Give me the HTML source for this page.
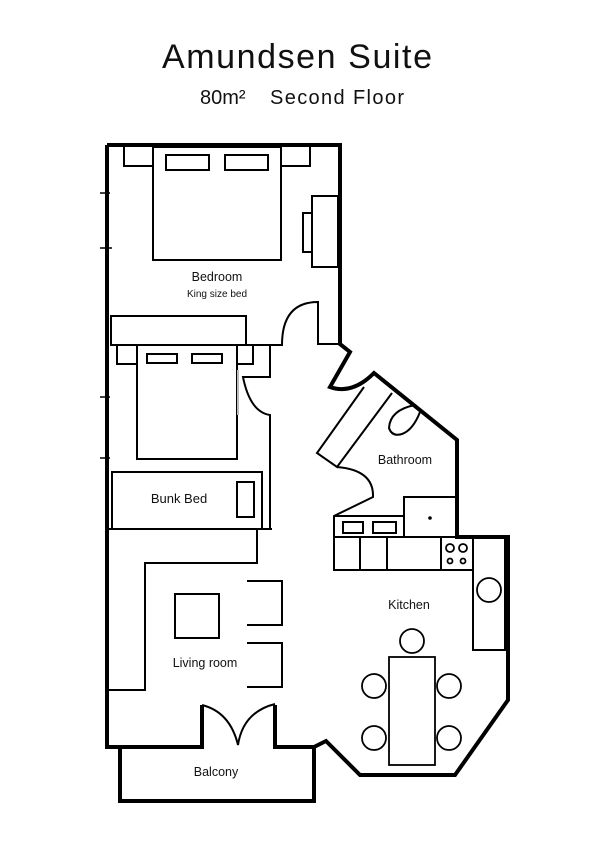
<!DOCTYPE html>
<html><head><meta charset="utf-8"><style>
html,body{margin:0;padding:0;background:#fff;width:607px;height:854px;overflow:hidden}
svg{display:block}
text{font-family:"Liberation Sans",sans-serif;fill:#111}
</style></head><body>
<svg width="607" height="854" viewBox="0 0 607 854" xmlns="http://www.w3.org/2000/svg">
<text x="297" y="68" font-size="34" text-anchor="middle" textLength="270">Amundsen Suite</text>
<text x="200" y="104" font-size="20">80m²</text>
<text x="270" y="104" font-size="20" textLength="134">Second Floor</text>

<g fill="none" stroke="#000" stroke-linejoin="miter">
<path stroke-width="4" d="M107,145 L340,145 L340,344 L350,352 L330,387 Q352,395 374,373 L457,440 L457,537 L508,537 L508,700 L455,775 L360,775 L326,741 L314,747 L275,747 L275,705"/>
<path stroke-width="4" d="M107,145 L107,747 L202,747 L202,705"/>
<path stroke-width="4" d="M120,747 L120,801 L314,801 L314,745"/>
<path stroke-width="1.5" d="M100,193H110M100,248H112M100,397H110M100,458H110"/>

<g stroke-width="2">
<rect x="153" y="147" width="128" height="113"/>
<rect x="166" y="155" width="43" height="15"/>
<rect x="225" y="155" width="43" height="15"/>
<path d="M124,147V166H153M281,166H310V147"/>
<rect x="312" y="196" width="26" height="71"/>
<rect x="303" y="213" width="9" height="39"/>
<rect x="111" y="316" width="135" height="29"/>
<path d="M246,345H282 Q282,302 318,302 V344 H339"/>
<rect x="137" y="345" width="100" height="114"/>
<rect x="147" y="354" width="30" height="9"/>
<rect x="192" y="354" width="30" height="9"/>
<path d="M117,345V364H137M237,364H253V345"/>
<path d="M270,345V377H243 Q250,412 270,415 V529"/>
<path d="M107,529H272"/>
<rect x="112" y="472" width="150" height="57"/>
<rect x="237" y="482" width="17" height="35"/>
<path d="M257,529V563H145V690H107"/>
<rect x="175" y="594" width="44" height="44"/>
<path d="M247,581H282V625H247M247,643H282V687H247"/>
<path d="M202,705 Q230,712 238,745 Q243,712 275,704"/>
<path d="M364,387L317,453L337,467L392,393"/>
<path d="M415,405 Q390,410 389,428 Q392,437 402,434 Q413,430 420,412"/>
<path d="M337,467 Q374,470 373,497 L334,516 V570 H473 V537"/>
<path d="M334,516H404V537H334"/>
<path d="M404,537H473"/>
<rect x="343" y="522" width="20" height="11"/>
<rect x="373" y="522" width="23" height="11"/>
<path d="M404,537V497H457"/>
<path d="M360,537V570M387,537V570M441,537V570"/>
<rect x="473" y="537" width="32" height="113"/>
</g>
<g stroke-width="1.8">
<circle cx="450" cy="548" r="4"/><circle cx="463" cy="548" r="4"/>
<circle cx="450" cy="561" r="2.5"/><circle cx="463" cy="561" r="2.5"/>
<circle cx="489" cy="590" r="12"/>
<rect x="389" y="657" width="46" height="108"/>
<circle cx="412" cy="641" r="12"/>
<circle cx="374" cy="686" r="12"/><circle cx="449" cy="686" r="12"/>
<circle cx="374" cy="738" r="12"/><circle cx="449" cy="738" r="12"/>
</g>
</g>
<line x1="238" y1="370" x2="238" y2="415" stroke="#bbb" stroke-width="2"/>
<circle cx="430" cy="518" r="1.8" fill="#000"/>

<text x="217" y="281" font-size="12.5" text-anchor="middle">Bedroom</text>
<text x="217" y="297" font-size="10" text-anchor="middle">King size bed</text>
<text x="179" y="503" font-size="13" text-anchor="middle">Bunk Bed</text>
<text x="405" y="464" font-size="12.5" text-anchor="middle">Bathroom</text>
<text x="409" y="609" font-size="12.5" text-anchor="middle">Kitchen</text>
<text x="205" y="667" font-size="12.5" text-anchor="middle">Living room</text>
<text x="216" y="776" font-size="12.5" text-anchor="middle">Balcony</text>
</svg>
</body></html>
